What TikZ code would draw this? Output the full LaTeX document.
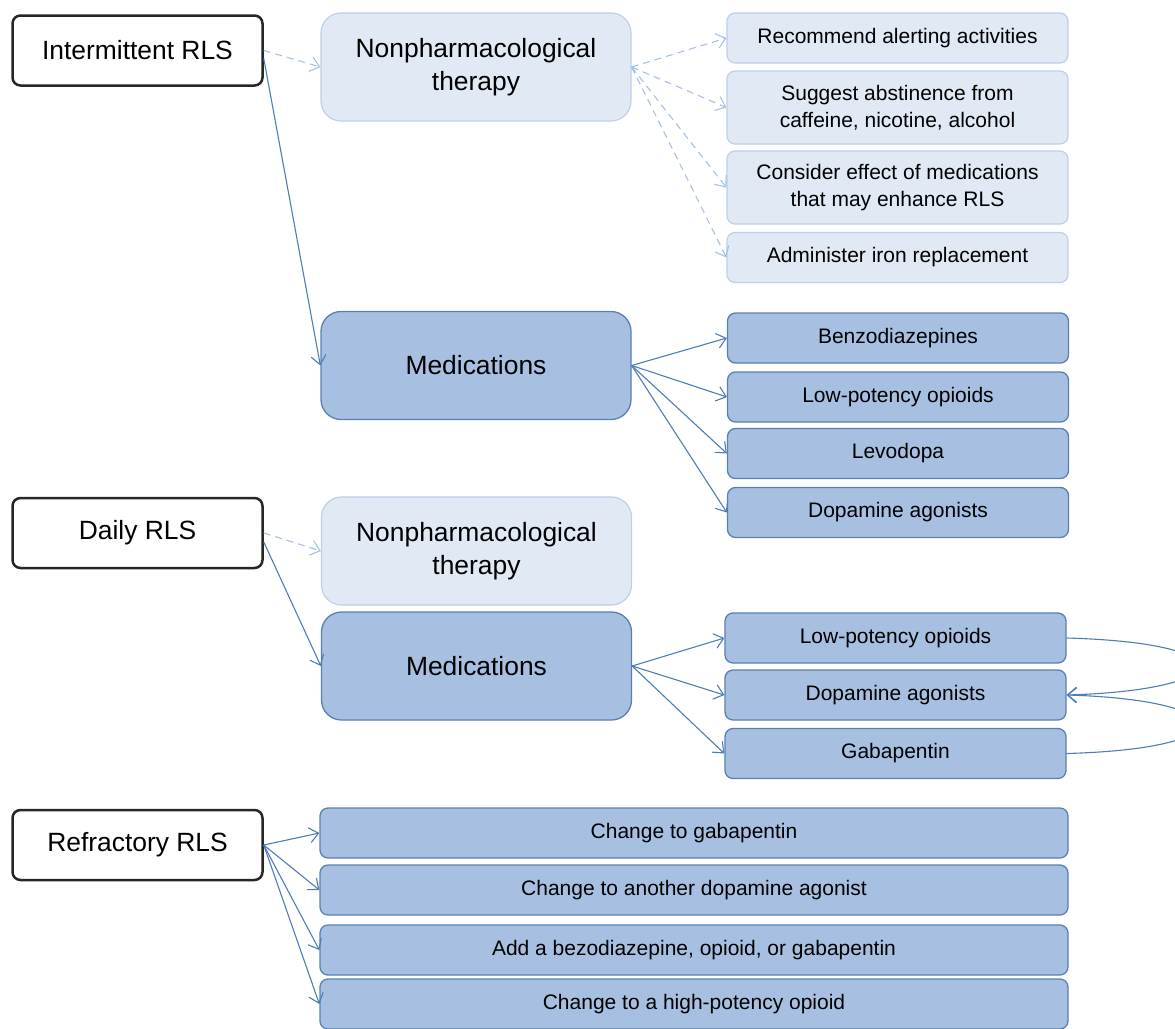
\documentclass[tikz,border=0pt]{standalone}
\usepackage{fontspec}
\setmainfont{Liberation Sans}
\usetikzlibrary{arrows.meta}

\definecolor{rlsline}{HTML}{262626}
\definecolor{npfill}{HTML}{E1E9F5}
\definecolor{npline}{HTML}{BDD0E8}
\definecolor{medfill}{HTML}{A7C0E1}
\definecolor{medline}{HTML}{5A80B2}
\definecolor{hardarrow}{HTML}{4E7CB5}
\definecolor{softarrow}{HTML}{A5C1E5}

\newcommand{\bigtxt}{\fontsize{26.4pt}{33pt}\selectfont}
\newcommand{\smalltxt}{\fontsize{21pt}{26.5pt}\selectfont}

\begin{document}
\begin{tikzpicture}[x=1pt, y=-1pt,
  rls/.style={draw=rlsline, line width=2.5pt, rounded corners=8pt, fill=white,
    minimum width=250pt, minimum height=70pt, inner sep=0pt, font=\bigtxt},
  therapy/.style={rounded corners=20pt, minimum width=310pt, minimum height=108pt,
    inner sep=0pt, align=center, font=\bigtxt},
  nonpharm/.style={therapy, draw=npline, fill=npfill, line width=1.2pt},
  meds/.style={therapy, draw=medline, fill=medfill, line width=1.3pt},
  choice/.style={rounded corners=8pt, minimum width=341pt, minimum height=50pt,
    inner sep=0pt, align=center, font=\smalltxt},
  advice/.style={choice, draw=npline, fill=npfill, line width=1.2pt},
  drug/.style={choice, draw=medline, fill=medfill, line width=1.3pt},
  soft/.style={draw=softarrow, line width=1.1pt, dash pattern=on 7pt off 5pt,
    -{Straight Barb[length=9pt,width=15pt]}},
  hard/.style={draw=hardarrow, line width=1.1pt,
    -{Straight Barb[length=9pt,width=15pt]}}]

  \path[use as bounding box, clip] (0,0) rectangle (1175,1028);

  % Intermittent RLS
  \node[rls] (irls) at (137.5,50.5) {Intermittent RLS};
  \node[nonpharm] (np1) at (476,67) {Nonpharmacological\\therapy};
  \node[meds] (med1) at (476,365.5) {Medications};

  \node[advice] (rec) at (897.5,38) {Recommend alerting activities};
  \node[advice, minimum height=73pt] (sug) at (897.5,107.5) {Suggest abstinence from\\caffeine, nicotine, alcohol};
  \node[advice, minimum height=73pt] (con) at (897.5,187.5) {Consider effect of medications\\that may enhance RLS};
  \node[advice] (adm) at (897.5,257.5) {Administer iron replacement};

  \node[drug] (benz) at (898,338) {Benzodiazepines};
  \node[drug] (lp1) at (898,397) {Low-potency opioids};
  \node[drug] (levo) at (898,453.5) {Levodopa};
  \node[drug] (dop1) at (898,512.5) {Dopamine agonists};

  % Daily RLS
  \node[rls] (drls) at (137.5,533) {Daily RLS};
  \node[nonpharm] (np2) at (476.5,551) {Nonpharmacological\\therapy};
  \node[meds] (med2) at (476.5,666) {Medications};

  \node[drug] (lp2) at (895.5,638) {Low-potency opioids};
  \node[drug] (dop2) at (895.5,695) {Dopamine agonists};
  \node[drug] (gaba) at (895.5,753.5) {Gabapentin};

  % Refractory RLS
  \node[rls] (rrls) at (137.5,845) {Refractory RLS};
  \node[drug, minimum width=748pt] (chg1) at (694,833) {Change to gabapentin};
  \node[drug, minimum width=748pt] (chg2) at (694,890) {Change to another dopamine agonist};
  \node[drug, minimum width=748pt] (addx) at (694,950) {Add a bezodiazepine, opioid, or gabapentin};
  \node[drug, minimum width=748pt] (chg3) at (694,1004) {Change to a high-potency opioid};

  % Connectors
  \draw[soft] (irls.east) -- (np1.west);
  \draw[hard] ([yshift=-8pt]irls.east) -- (med1.west);
  \foreach \n in {rec,sug,con,adm}
    \draw[soft] (np1.east) -- (\n.west);
  \foreach \n in {benz,lp1,levo,dop1}
    \draw[hard] (med1.east) -- (\n.west);

  \draw[soft] (drls.east) -- (np2.west);
  \draw[hard] ([yshift=-9pt]drls.east) -- (med2.west);
  \foreach \n in {lp2,dop2,gaba}
    \draw[hard] (med2.east) -- (\n.west);
  \draw[hard] (lp2.east) .. controls +(180,5) and +(170,-5) .. (dop2.east);
  \draw[hard] (gaba.east) .. controls +(180,-5) and +(170,5) .. (dop2.east);

  \foreach \n in {chg1,chg2,addx,chg3}
    \draw[hard] (rrls.east) -- (\n.west);
\end{tikzpicture}
\end{document}
